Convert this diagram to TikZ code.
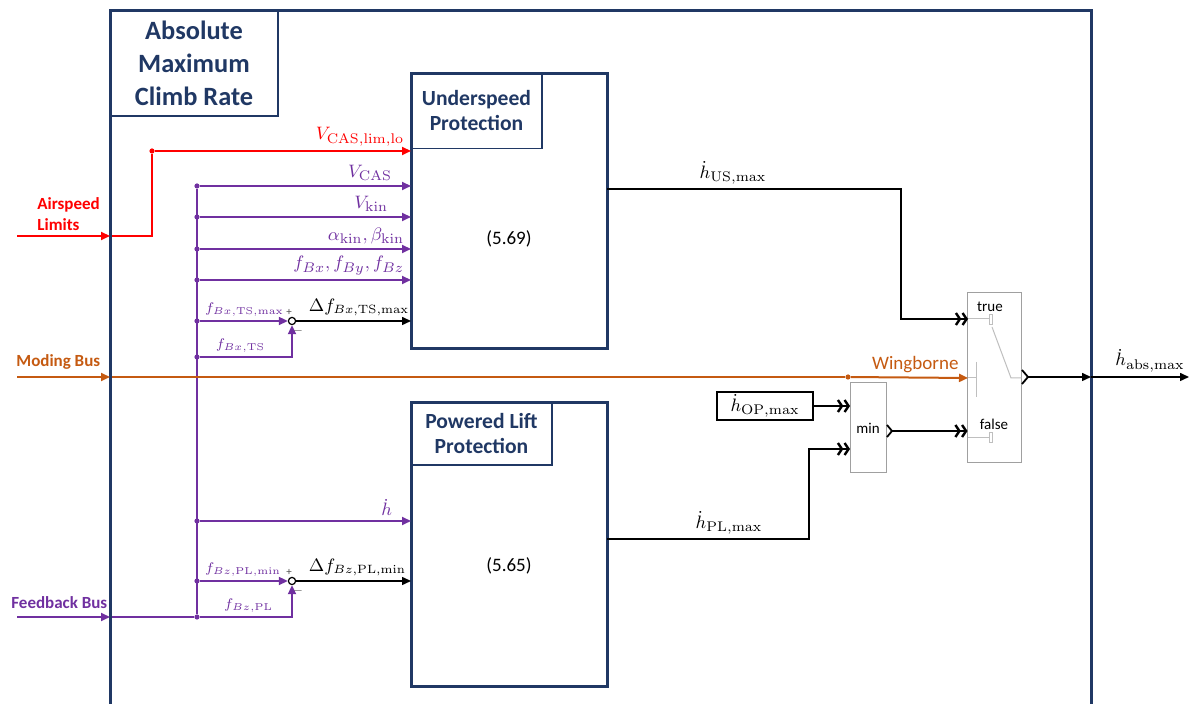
\documentclass[tikz,border=0pt]{standalone}
\usepackage[no-math]{fontspec}
\setmainfont{Carlito}
\usetikzlibrary{arrows.meta}

\definecolor{navy}{HTML}{203864}
\definecolor{sigred}{HTML}{FF0000}
\definecolor{sigpurple}{HTML}{7030A0}
\definecolor{sigorange}{HTML}{C55A11}
\definecolor{portgray}{HTML}{A0A0A0}
\definecolor{swgray}{HTML}{BFBFBF}

\tikzset{
  frame/.style={draw=navy, line width=1.5pt, inner sep=0pt, outer sep=0pt},
  block/.style={draw=navy, line width=1.5pt, inner sep=0pt, outer sep=0pt},
  namebox/.style={draw=navy, line width=0.6pt, inner sep=0pt, outer sep=0pt,
    text=navy, font=\bfseries\fontsize{10.8}{12.5}\selectfont, align=center},
  titlebox/.style={draw=navy, line width=0.6pt, inner sep=0pt, outer sep=0pt,
    text=navy, font=\bfseries\fontsize{13.2}{16.5}\selectfont, align=center},
  simblock/.style={draw=portgray, line width=0.5pt, fill=white, inner sep=0pt, outer sep=0pt},
  sig/.style={line width=1pt},
  thin/.style={line width=0.75pt, black},
  tri/.style={-{Triangle[length=4.5pt,width=4pt]}},
  simarrow/.style={-{Straight Barb[length=2pt,width=6pt,line width=1.2pt]Straight Barb[length=2pt,width=6pt,line width=1.2pt]}},
  junction/.style={circle, fill, inner sep=0pt, minimum size=2.6pt},
  sumpt/.style={circle, draw=black, fill=white, line width=0.6pt, inner sep=0pt, minimum size=3.6pt},
  lbl/.style={font=\fontsize{9.3}{11}\selectfont, inner sep=1pt},
  sumlbl/.style={font=\fontsize{7.5}{9}\selectfont, inner sep=1pt},
  dlbl/.style={font=\fontsize{8.6}{10}\selectfont, inner sep=1pt},
  buslbl/.style={font=\bfseries\fontsize{8.5}{10.5}\selectfont, inner sep=0pt},
  eq/.style={font=\fontsize{9.5}{11}\selectfont, inner sep=0pt},
  small/.style={font=\fontsize{7.5}{9}\selectfont, inner sep=0pt},
  sgn/.style={font=\fontsize{5.5}{6}\selectfont, inner sep=0pt, text=black!70},
  swline/.style={draw=swgray, line width=0.5pt},
}

\begin{document}
\begin{tikzpicture}[x=0.5pt, y=-0.5pt]
\useasboundingbox (0,0) rectangle (1189,704);

% subsystem frame and title
\node[frame, minimum width=490.5pt, minimum height=374.5pt] (frame) at (600.5,385.5) {};
\node[titlebox, minimum width=84pt, minimum height=52.5pt, anchor=north west] (title)
  at (frame.north west) {Absolute\\Maximum\\Climb Rate};

% protection blocks
\node[block, minimum width=98pt, minimum height=137.5pt] (us) at (509,211) {};
\node[namebox, minimum width=65.5pt, minimum height=37.5pt, anchor=north west] (uslbl)
  at (us.north west) {Underspeed\\Protection};
\node[eq] (useq) at (509,239) {(5.69)};

\node[block, minimum width=98pt, minimum height=142pt] (pl) at (509,545) {};
\node[namebox, minimum width=70.5pt, minimum height=31pt, anchor=north west] (pllbl)
  at (pl.north west) {Powered Lift\\Protection};
\node[eq] (pleq) at (509,566) {(5.65)};

% switch, min and constant
\node[simblock, minimum width=27pt, minimum height=85pt] (sw) at (994.5,378) {};
\node[small] (swtrue) at (990,307) {true};
\node[small] (swfalse) at (994,424) {false};
\node[simblock, minimum width=18pt, minimum height=45pt] (mn) at (868,428) {};
\node[small] (mnlbl) at (868,428) {min};
\node[draw, line width=0.7pt, minimum width=48pt, minimum height=14pt, inner sep=0pt,
  font=\fontsize{9.3}{11}\selectfont] (op) at (765,406) {$\dot h_{\mathrm{OP,max}}$};

% switch internals
\coordinate (swT) at (968,319);
\coordinate (swC) at (968,378);
\coordinate (swF) at (968,438);
\draw[swline] (swT) -- (989,319);
\draw[swline] (989.5,315) rectangle (992.5,325);
\draw[swline] (992,327) -- (1011,378) -- (sw.east |- swC);
\draw[swline] (swC) -- (976,378);
\draw[swline] (976,362) -- (976,397);
\draw[swline] (swF) -- (989,438);
\draw[swline] (989.5,433) rectangle (992.5,443);

% external inputs
\coordinate (aslIn) at (17,236);
\coordinate (modIn) at (17,377);
\coordinate (fbIn) at (17,617);
\draw[sigred, sig, tri] (aslIn) -- (aslIn -| frame.west);
\node[buslbl, text=sigred, align=left, anchor=west] (asl) at (37,214) {Airspeed\\Limits};
\draw[sigorange, sig, tri] (modIn) -- (modIn -| frame.west);
\node[buslbl, text=sigorange, anchor=west] (mod) at (16,362) {Moding Bus};
\draw[sigpurple, sig, tri] (fbIn) -- (fbIn -| frame.west);
\node[buslbl, text=sigpurple, anchor=west] (fb) at (11,603) {Feedback Bus};

% airspeed limits
\coordinate (aslA) at (112,236);
\node[junction, sigred] (jr) at (152,151) {};
\draw[sigred, sig] (aslA) -| (jr);
\draw[sigred, sig, tri] (jr) -- (jr -| us.west)
  node[lbl, pos=1, anchor=south east, xshift=-2pt, yshift=1pt] {$V_{\mathrm{CAS,lim,lo}}$};

% feedback bus distribution
\node[junction, sigpurple] (j1) at (197,186) {};
\node[junction, sigpurple] (j2) at (197,217) {};
\node[junction, sigpurple] (j3) at (197,249) {};
\node[junction, sigpurple] (j4) at (197,280) {};
\node[junction, sigpurple] (j5) at (197,321) {};
\node[junction, sigpurple] (j6) at (197,357) {};
\node[junction, sigpurple] (j7) at (197,521) {};
\node[junction, sigpurple] (j8) at (197,581) {};
\node[junction, sigpurple] (j9) at (197,617) {};
\coordinate (fbA) at (112,617);
\draw[sigpurple, sig] (fbA) -- (j9);
\draw[sigpurple, sig] (j1) -- (j9);

\draw[sigpurple, sig, tri] (j1) -- (j1 -| us.west)
  node[lbl, text=sigpurple, pos=1, anchor=south east, xshift=-8pt, yshift=1pt] {$V_{\mathrm{CAS}}$};
\draw[sigpurple, sig, tri] (j2) -- (j2 -| us.west)
  node[lbl, text=sigpurple, pos=1, anchor=south east, xshift=-10pt, yshift=1pt] {$V_{\mathrm{kin}}$};
\draw[sigpurple, sig, tri] (j3) -- (j3 -| us.west)
  node[lbl, text=sigpurple, pos=1, anchor=south east, xshift=-2pt, yshift=1pt] {$\alpha_{\mathrm{kin}},\beta_{\mathrm{kin}}$};
\draw[sigpurple, sig, tri] (j4) -- (j4 -| us.west)
  node[lbl, text=sigpurple, pos=1, anchor=south east, xshift=-2pt, yshift=1pt] {$f_{Bx},f_{By},f_{Bz}$};

% upper difference
\node[sumpt] (s1) at (292,321) {};
\draw[sigpurple, sig, tri] (j5) -- (s1.west)
  node[sumlbl, text=sigpurple, pos=0, anchor=south west, xshift=1pt, yshift=1pt] {$f_{Bx,\mathrm{TS,max}}$};
\draw[sigpurple, sig, tri] (j6) -| (s1.south)
  node[sumlbl, text=sigpurple, pos=0.5, anchor=south east, xshift=-12pt, yshift=1pt] {$f_{Bx,\mathrm{TS}}$};
\node[sgn] at (289,312) {+};
\node[sgn] at (298,331) {$-$};
\draw[thin, tri] (s1.east) -- (s1 -| us.west)
  node[dlbl, pos=0, anchor=south west, xshift=5pt, yshift=1pt] {$\Delta f_{Bx,\mathrm{TS,max}}$};

% powered lift inputs
\draw[sigpurple, sig, tri] (j7) -- (j7 -| pl.west)
  node[lbl, text=sigpurple, pos=1, anchor=south east, xshift=-8pt, yshift=1pt] {$\dot h$};
\node[sumpt] (s2) at (292,581) {};
\draw[sigpurple, sig, tri] (j8) -- (s2.west)
  node[sumlbl, text=sigpurple, pos=0, anchor=south west, xshift=1pt, yshift=1pt] {$f_{Bz,\mathrm{PL,min}}$};
\draw[sigpurple, sig, tri] (j9) -| (s2.south)
  node[sumlbl, text=sigpurple, pos=0.5, anchor=south east, xshift=-8pt, yshift=1pt] {$f_{Bz,\mathrm{PL}}$};
\node[sgn] at (289,572) {+};
\node[sgn] at (298,591) {$-$};
\draw[thin, tri] (s2.east) -- (s2 -| pl.west)
  node[dlbl, pos=0, anchor=south west, xshift=5pt, yshift=1pt] {$\Delta f_{Bz,\mathrm{PL,min}}$};

% moding bus to switch control
\coordinate (modA) at (112,377);
\node[junction, sigorange] (jo) at (848,377) {};
\draw[sigorange, sig] (modA) -- (jo);
\draw[sigorange, sig, tri] (jo) -- (swC)
  node[pos=0.55, anchor=south, yshift=1pt, font=\fontsize{9.5}{11}\selectfont, inner sep=1pt] {Wingborne};

% block outputs
\coordinate (usOut) at (607,189);
\coordinate (usBend) at (901,189);
\draw[thin, simarrow] (usOut) -- (usBend) |- (swT)
  node[lbl, pos=0, anchor=south, xshift=-84pt, yshift=1pt] {$\dot h_{\mathrm{US,max}}$};
\coordinate (plOut) at (607,539);
\coordinate (plBend) at (809,539);
\draw[thin, simarrow] (plOut) -- (plBend) |- (mn.west |- 0,449)
  node[lbl, pos=0, anchor=south, xshift=-40pt, yshift=1pt] {$\dot h_{\mathrm{PL,max}}$};
\draw[thin, simarrow] (op.east) -- (mn.west |- op.east);

% min output to switch
\coordinate (mnOut) at (892,431);
\draw[line width=0.9pt] (887,425) -- (mnOut) -- (887,437);
\draw[thin, simarrow] (mnOut) -- (sw.west |- mnOut);

% switch output through the frame
\coordinate (swOut) at (1028,377);
\coordinate (outEnd) at (1189,377);
\draw[line width=0.9pt] (1022,370) -- (swOut) -- (1022,384);
\draw[thin, tri] (swOut) -- (swOut -| frame.east);
\draw[thin, tri] (frame.east |- swOut) -- (outEnd)
  node[lbl, pos=0.5, anchor=south, xshift=5pt, yshift=1pt] {$\dot h_{\mathrm{abs,max}}$};
\end{tikzpicture}
\end{document}
